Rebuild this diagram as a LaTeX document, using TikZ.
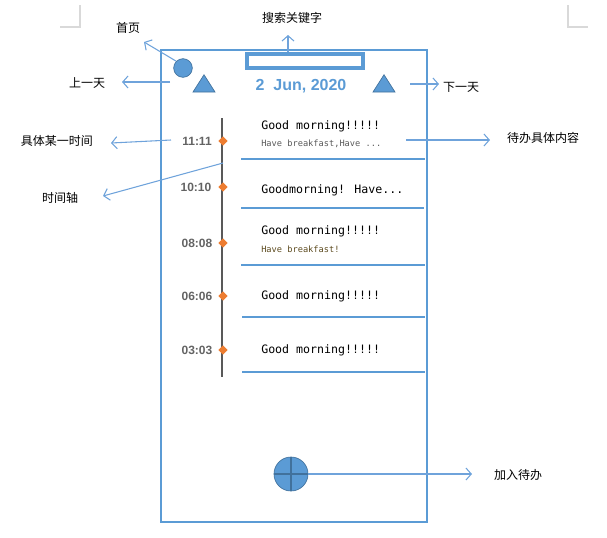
\documentclass[tikz,border=0pt]{standalone}
\usepackage{fontspec}
\setmainfont{Liberation Sans}
\newfontfamily\cjk{Noto Sans CJK SC}
\newfontfamily\monof{DejaVu Sans Mono}
\usetikzlibrary{arrows.meta,shapes.geometric}
\definecolor{fblue}{HTML}{5B9BD5}
\definecolor{dblue}{HTML}{41719C}
\definecolor{ablue}{HTML}{6FA3DB}
\definecolor{tgray}{HTML}{636363}
\definecolor{tline}{HTML}{595959}
\definecolor{dorange}{HTML}{ED7D31}
\definecolor{brownish}{HTML}{5C4A1E}
\definecolor{cmark}{HTML}{D9D9D9}
\tikzset{
  lbl/.style={font=\cjk\fontsize{9}{10}\selectfont, text=black, inner sep=1pt},
  callout/.style={draw=ablue, line width=0.8pt, -{Straight Barb[length=4pt,width=9pt]}},
  sep/.style={draw=fblue, line width=0.8pt},
  tim/.style={font=\bfseries\fontsize{9}{10}\selectfont, text=tgray, inner sep=0pt},
  big/.style={font=\monof\fontsize{8.7}{10}\selectfont, anchor=west, inner sep=0pt},
  small/.style={font=\monof\fontsize{6.5}{8}\selectfont, anchor=west, inner sep=0pt},
  dia/.style={diamond, fill=dorange, inner sep=0pt, minimum size=7pt},
  tri/.style={isosceles triangle, shape border rotate=90, isosceles triangle apex angle=65, fill=fblue, draw=dblue, line width=0.5pt, inner sep=0pt, minimum height=13pt, minimum width=15pt}
}
\begin{document}
\begin{tikzpicture}[x=0.75pt,y=-0.75pt]
\useasboundingbox (0,0) rectangle (607,537);
% page corner marks
\draw[cmark, line width=0.8pt] (80,5) -- (80,27) -- (60,27);
\draw[cmark, line width=0.8pt] (568,5) -- (568,27) -- (588,27);
% phone frame
\draw[fblue, line width=0.8pt] (161,50) rectangle (427,522);
% header
\node[circle, fill=fblue, draw=dblue, line width=0.5pt, minimum size=14pt, inner sep=0pt] (home) at (183,68) {};
\node[tri] (prev) at (204,86) {};
\node[tri] (next) at (384,86) {};
\node[draw=fblue, line width=3pt, fill=white, minimum width=87pt, minimum height=11pt, inner sep=0pt] (search) at (305,61) {};
\node[font=\bfseries\fontsize{12}{14}\selectfont, text=fblue, inner sep=0pt] (date) at (301,86) {2\ \ Jun, 2020};
% labels
\node[lbl] (Lhome) at (128,28) {首页};
\node[lbl] (Lsearch) at (292,18) {搜索关键字};
\node[lbl] (Lprev) at (87,83) {上一天};
\node[lbl] (Lnext) at (461,87) {下一天};
\node[lbl] (Ltime) at (57,141) {具体某一时间};
\node[lbl] (Laxis) at (60,198) {时间轴};
\node[lbl] (Lcontent) at (543,138) {待办具体内容};
\node[lbl] (Ladd) at (518,475) {加入待办};
% timeline
\coordinate (tltop) at (222,118);
\coordinate (tlbot) at (222,377);
\draw[tline, line width=1.5pt] (tltop) -- (tlbot);
\node[dia] (d1) at (223,141) {};
\node[dia] (d2) at (223,187) {};
\node[dia] (d3) at (223,243) {};
\node[dia] (d4) at (223,296) {};
\node[dia] (d5) at (223,350) {};
\node[tim] (t1) at (197,141) {11:11};
\node[tim] (t2) at (196,187) {10:10};
\node[tim] (t3) at (197,243) {08:08};
\node[tim] (t4) at (197,296) {06:06};
\node[tim] (t5) at (197,350) {03:03};
% items
\node[big] (g1) at (261,126) {Good morning!!!!!};
\node[small, text=tline] (h1) at (261,144) {Have breakfast,Have ...};
\draw[sep] (241,159) -- (425,159);
\node[big] (g2) at (261,190) {Goodmorning! Have...};
\draw[sep] (241,208) -- (424,208);
\node[big] (g3) at (261,231) {Good morning!!!!!};
\node[small, text=brownish] (h3) at (261,249) {Have breakfast!};
\draw[sep] (241,265) -- (425,265);
\node[big] (g4) at (261,296) {Good morning!!!!!};
\draw[sep] (242,317) -- (425,317);
\node[big] (g5) at (261,350) {Good morning!!!!!};
\draw[sep] (242,372) -- (425,372);
% add button
\node[circle, fill=fblue, draw=dblue, line width=0.5pt, minimum size=25.5pt, inner sep=0pt] (add) at (291,474) {};
\draw[dblue, line width=0.8pt] (add.north) -- (add.south) (add.west) -- (add.east);
% callout arrows
\coordinate (c1) at (288,52);
\coordinate (c1e) at (288,35);
\draw[callout] (c1) -- (c1e);
\coordinate (c2e) at (144,42);
\draw[callout] (home.north west) -- (c2e);
\coordinate (c3) at (170,82);
\coordinate (c3e) at (122,82);
\draw[callout] (c3) -- (c3e);
\coordinate (c4) at (410,84);
\coordinate (c4e) at (439,84);
\draw[callout] (c4) -- (c4e);
\coordinate (c5) at (171,140);
\coordinate (c5e) at (111,143);
\draw[callout] (c5) -- (c5e);
\coordinate (c6) at (223,163);
\coordinate (c6e) at (103,196);
\draw[callout] (c6) -- (c6e);
\coordinate (c7) at (406,140);
\coordinate (c7e) at (490,140);
\draw[callout] (c7) -- (c7e);
\coordinate (c8e) at (472,474);
\draw[callout] (add.east) -- (c8e);
\end{tikzpicture}
\end{document}
